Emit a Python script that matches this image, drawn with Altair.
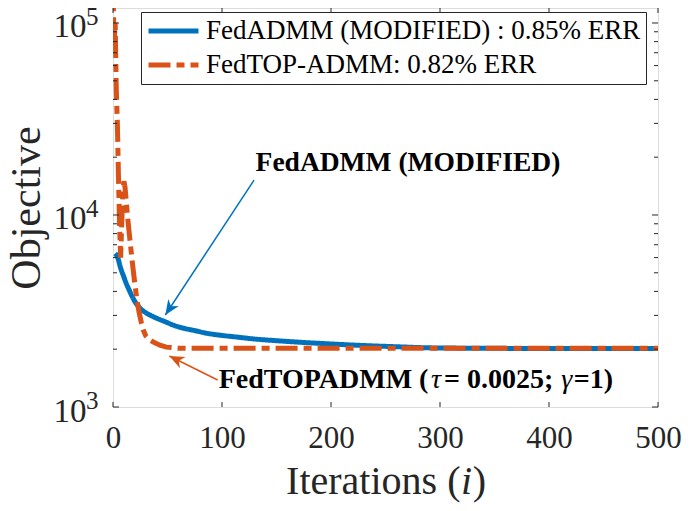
import altair as alt
import pandas as pd

# ---------------- data ----------------
series_names = ["FedADMM (MODIFIED) : 0.85% ERR", "FedTOP-ADMM: 0.82% ERR"]
series_colors = ["#0072BD", "#D95319"]

blue_iter = [2, 4, 7, 10, 12, 15, 18, 21, 25, 30, 35, 40, 48, 55, 65, 75, 85, 100,
             113, 130, 150, 168, 200, 230, 260, 287, 320, 360, 400, 450, 500]
blue_val = [6300, 6070, 5300, 4750, 4425, 4050, 3720, 3480, 3260, 3100, 2990, 2900,
            2780, 2673, 2570, 2500, 2427, 2360, 2315, 2260, 2215, 2180, 2130, 2090,
            2060, 2035, 2025, 2020, 2018, 2015, 2015]

orange_iter = [0, 1, 2, 3, 4, 5, 6, 7, 8, 9, 10, 11, 12, 14, 16, 18, 20, 22, 24, 26,
               28, 30, 33, 37, 43, 49, 60, 80, 120, 200, 300, 400, 500]
orange_val = [150000, 80000, 100000, 45000, 30000, 16000, 9000, 6000, 9000, 13000,
              15000, 14000, 12000, 9000, 7000, 5500, 4400, 3600, 3100, 2750, 2500,
              2350, 2250, 2180, 2100, 2050, 2025, 2020, 2020, 2020, 2020, 2020, 2020]

x_ticks = [0, 100, 200, 300, 400, 500]
y_major = [1000, 10000, 100000]
y_exponents = ["3", "4", "5"]
y_minor = [2000, 3000, 4000, 5000, 6000, 7000, 8000, 9000,
           20000, 30000, 40000, 50000, 60000, 70000, 80000, 90000]

x_title_pieces = ["Iterations (", "i", ")"]
x_title_italic = [False, True, False]
x_title_dx = [-99.4, 75.6, 87.2]

ann1_text = "FedADMM (MODIFIED)"
ann1_i, ann1_v = 270.6, 18670

ann2_pieces = ["FedTOPADMM (", "τ", "= 0.0025;", "γ", "=1)"]
ann2_italic = [False, True, False, True, False]
ann2_dx = [0, 212.3, 225.3, 342.5, 355.0]
ann2_i, ann2_v = 97, 1382

arrow_i0 = [129.4, 96]
arrow_v0 = [15200, 1382]
arrow_i1 = [48, 51.7]
arrow_v1 = [3015, 1843]
arrow_angle = [123.3, 206.4]

# ---------------- tables ----------------
W, H = 545, 399
FONT = "Liberation Serif"
AX = "#262626"

lines_df = pd.DataFrame({
    "i": blue_iter + orange_iter,
    "v": blue_val + orange_val,
    "s": [series_names[0]] * len(blue_iter) + [series_names[1]] * len(orange_iter),
})
xt_df = pd.DataFrame({"i": x_ticks})
ymaj_df = pd.DataFrame({"v": y_major, "e": y_exponents})
ymin_df = pd.DataFrame({"v": y_minor})
arr_df = pd.DataFrame({"i": arrow_i0, "v": arrow_v0, "i1": arrow_i1, "v1": arrow_v1,
                       "c": series_colors})
head_df = pd.DataFrame({"i": arrow_i1, "v": arrow_v1, "a": arrow_angle, "c": series_colors})

xs = alt.Scale(domain=[0, 500], nice=False, zero=False)
ys = alt.Scale(type="log", domain=[1000, 119700], nice=False)

leg = alt.Legend(
    title=None, orient="none", legendX=28, legendY=4, direction="vertical",
    symbolType="stroke", symbolSize=2500, symbolStrokeWidth=5, clipHeight=28,
    labelFont=FONT, labelFontSize=27, labelColor="black", labelLimit=1000,
    strokeColor=AX, fillColor="white", padding=5, rowPadding=6, labelOffset=5,
)
color_enc = alt.Color("s:N", scale=alt.Scale(domain=series_names, range=series_colors), legend=leg)
dash_enc = alt.StrokeDash("s:N", scale=alt.Scale(domain=series_names, range=[[1, 0], [22, 6, 8, 6]]), legend=leg)

x_axis = alt.Axis(values=x_ticks, ticks=False, domain=False, grid=False, labelFlush=False,
                  labelFont=FONT, labelFontSize=31, labelColor=AX, labelPadding=16,
                  title=None)
y_axis = alt.Axis(values=y_major, labelExpr="'10'", ticks=False, domain=False, grid=False,
                  labelFlush=False,
                  labelFont=FONT, labelFontSize=33, labelColor=AX, labelPadding=27,
                  labelOffset=4,
                  title="Objective", titleFont=FONT, titleFontSize=42,
                  titleFontWeight="normal", titleColor=AX, titlePadding=5)

X = alt.X("i:Q", scale=xs, axis=x_axis, title=None)
Y = alt.Y("v:Q", scale=ys, axis=y_axis, title="Objective")

base = alt.Chart(lines_df)
blue = base.transform_filter(alt.datum.s == series_names[0]).mark_line(
    strokeWidth=5, clip=True, interpolate="monotone").encode(
    x=X, y=Y, color=color_enc, strokeDash=dash_enc)
orange = base.transform_filter(alt.datum.s == series_names[1]).mark_line(
    strokeWidth=5, clip=True).encode(
    x=X, y=Y, color=color_enc, strokeDash=dash_enc)

tick_style = dict(color=AX, strokeWidth=1)
xt_bot = alt.Chart(xt_df).mark_rule(**tick_style).encode(
    x=X, y=alt.value(H), y2=alt.value(H - 5))
xt_top = alt.Chart(xt_df).mark_rule(**tick_style).encode(
    x=X, y=alt.value(0), y2=alt.value(5))
ymaj_l = alt.Chart(ymaj_df).mark_rule(**tick_style).encode(
    y=Y, x=alt.value(0), x2=alt.value(6))
ymaj_r = alt.Chart(ymaj_df).mark_rule(**tick_style).encode(
    y=Y, x=alt.value(W), x2=alt.value(W - 6))
ymin_l = alt.Chart(ymin_df).mark_rule(**tick_style).encode(
    y=Y, x=alt.value(0), x2=alt.value(4))
ymin_r = alt.Chart(ymin_df).mark_rule(**tick_style).encode(
    y=Y, x=alt.value(W), x2=alt.value(W - 4))
exps = alt.Chart(ymaj_df).mark_text(
    font=FONT, fontSize=25, color=AX, align="left", baseline="middle", dy=-6).encode(
    y=Y, x=alt.value(-27), text="e:N")

arrow_lines = alt.Chart(arr_df).mark_rule(strokeWidth=1.5).encode(
    x=X, y=Y, x2="i1:Q", y2="v1:Q", color=alt.Color("c:N", scale=None, legend=None))
arrow_heads = alt.Chart(head_df).mark_point(
    shape="M0,0L-1,-0.42L-0.7,0L-1,0.42Z", filled=True, size=900, opacity=1).encode(
    x=X, y=Y, angle=alt.Angle("a:Q", scale=None),
    color=alt.Color("c:N", scale=None, legend=None))

ann1 = alt.Chart(pd.DataFrame({"i": [ann1_i], "v": [ann1_v], "t": [ann1_text]})).mark_text(
    font=FONT, fontSize=27.5, fontWeight="bold", color="black", align="center",
    baseline="middle").encode(x=X, y=Y, text="t:N")

ann2_layers = []
for piece, ital, dx in zip(ann2_pieces, ann2_italic, ann2_dx):
    df = pd.DataFrame({"i": [ann2_i], "v": [ann2_v], "t": [piece]})
    ann2_layers.append(alt.Chart(df).mark_text(
        font=FONT, fontSize=28, fontWeight="normal" if ital else "bold",
        fontStyle="italic" if ital else "normal", color="black", align="left",
        baseline="middle", dx=dx).encode(x=X, y=Y, text="t:N"))

xt_layers = []
for piece, ital, dx in zip(x_title_pieces, x_title_italic, x_title_dx):
    df = pd.DataFrame({"t": [piece]})
    xt_layers.append(alt.Chart(df).mark_text(
        font=FONT, fontSize=40, fontStyle="italic" if ital else "normal", color=AX,
        align="left", baseline="alphabetic", dx=dx).encode(
        x=alt.value(W / 2), y=alt.value(H + 87), text="t:N"))

chart = alt.layer(
    blue, orange, arrow_lines, arrow_heads, ann1, *ann2_layers, *xt_layers,
    xt_bot, xt_top, ymaj_l, ymaj_r, ymin_l, ymin_r, exps,
).properties(
    width=W, height=H,
    padding={"left": 105, "top": 0, "right": 25, "bottom": 96},
    autosize=alt.AutoSizeParams(type="none"),
).configure_view(stroke=AX, strokeWidth=1).configure(background="white")

chart.save("out.html", embed_options={"renderer": "svg", "actions": False})
